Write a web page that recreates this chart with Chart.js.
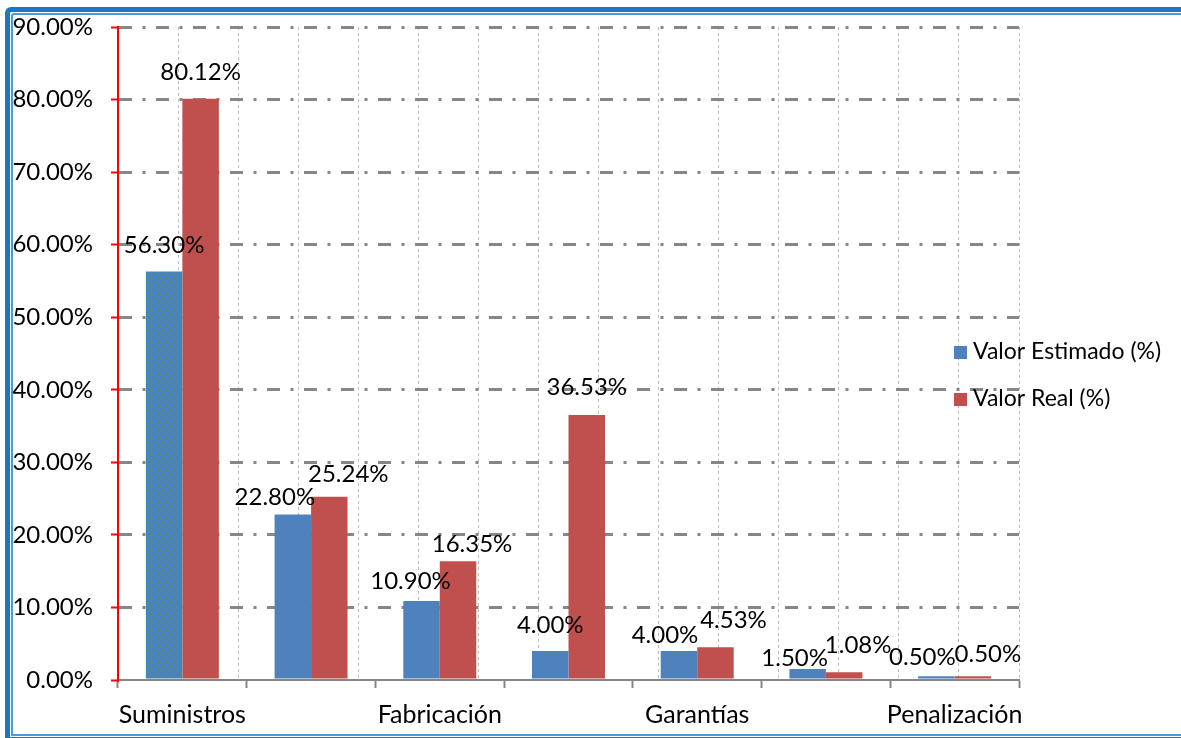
<!DOCTYPE html>
<html>
<head>
<meta charset="utf-8">
<script src="https://cdn.jsdelivr.net/npm/chart.js@4.4.1/dist/chart.umd.min.js"></script>
<style>
  html, body { margin: 0; padding: 0; background: #fff; overflow: hidden; }
  #wrap { position: relative; width: 1181px; height: 738px; overflow: hidden; }
  .frame {
    position: absolute; left: 5px; top: 7px; width: 1400px; height: 725px;
    border: 5px solid #1b76c5; border-right: none; border-top-left-radius: 6px;
  }
  .frame-inner {
    position: absolute; left: 1px; top: 1px; right: 0; bottom: 1px;
    border: 2px solid #4a9ade; border-right: none; border-top-left-radius: 3px;
  }
  canvas { position: absolute; left: 0; top: 0; }
</style>
</head>
<body>
<div id="wrap">
  <div class="frame"><div class="frame-inner"></div></div>
  <canvas id="chart" width="1181" height="738"></canvas>
</div>
<script>
// Categories (only every other name is printed on the axis)
const categories = ['Suministros', '', 'Fabricación', '', 'Garantías', '', 'Penalización'];
const seriesNames = ['Valor Estimado (%)', 'Valor Real (%)'];
const valorEstimado = [56.30, 22.80, 10.90, 4.00, 4.00, 1.50, 0.50];
const valorReal = [80.12, 25.24, 16.35, 36.53, 4.53, 1.08, 0.50];
const yMin = 0, yMax = 90, yStep = 10;

// Hand-placed value labels: [dx, dy] from the top centre of each bar
const estimadoLabelShift = [[0, -26], [-18, -17], [-11, -20], [0, -26], [-14, -16], [-13, -11], [-14, -19]];
const realLabelShift = [[0, -26], [19, -23], [14, -17], [0, -28], [18, -27], [14, -27], [15, -22]];

const FONT = 'Lato, "Open Sans", "Liberation Sans", sans-serif';
const BLUE = '#4F81BD';
const RED = '#C0504D';
const GRID = '#868686';

// Dotted fill used on the first estimated bar
function dottedFill() {
  const c = document.createElement('canvas');
  c.width = 8; c.height = 8;
  const g = c.getContext('2d');
  g.fillStyle = BLUE; g.fillRect(0, 0, 8, 8);
  g.fillStyle = '#2f9c70';
  g.beginPath(); g.arc(2, 2, 1.2, 0, Math.PI * 2); g.fill();
  g.beginPath(); g.arc(6, 6, 1.2, 0, Math.PI * 2); g.fill();
  return g.createPattern(c, 'repeat');
}
const estimadoColors = valorEstimado.map((v, i) => i === 0 ? dottedFill() : BLUE);

const valueLabels = {
  id: 'valueLabels',
  afterDatasetsDraw(chart) {
    const ctx = chart.ctx;
    const shifts = [estimadoLabelShift, realLabelShift];
    ctx.save();
    ctx.font = '24px ' + FONT;
    ctx.fillStyle = '#000';
    ctx.textAlign = 'center';
    ctx.textBaseline = 'middle';
    chart.data.datasets.forEach((ds, di) => {
      chart.getDatasetMeta(di).data.forEach((bar, i) => {
        const s = shifts[di][i];
        ctx.fillText(ds.data[i].toFixed(2) + '%', bar.x + s[0], bar.y + s[1]);
      });
    });
    ctx.restore();
  }
};

const sideLegend = {
  id: 'sideLegend',
  afterDraw(chart) {
    const ctx = chart.ctx;
    const colors = [BLUE, RED];
    const x = 954, rows = [352, 399];
    ctx.save();
    ctx.font = '23px ' + FONT;
    ctx.textBaseline = 'middle';
    ctx.textAlign = 'left';
    chart.data.datasets.forEach((ds, i) => {
      ctx.fillStyle = colors[i];
      ctx.fillRect(x, rows[i] - 6, 13, 13);
      ctx.fillStyle = '#000';
      ctx.fillText(ds.label, x + 19, rows[i]);
    });
    ctx.restore();
  }
};

new Chart(document.getElementById('chart'), {
  type: 'bar',
  data: {
    labels: categories,
    datasets: [
      { label: seriesNames[0], data: valorEstimado, backgroundColor: estimadoColors, xAxisID: 'x', yAxisID: 'y' },
      { label: seriesNames[1], data: valorReal, backgroundColor: RED, xAxisID: 'x', yAxisID: 'y' }
    ]
  },
  options: {
    responsive: false,
    animation: false,
    categoryPercentage: 0.567,
    barPercentage: 1.0,
    layout: { padding: { top: 27, right: 162, left: 0, bottom: 0 } },
    plugins: { legend: { display: false }, tooltip: { enabled: false } },
    scales: {
      x: {
        type: 'category',
        position: 'bottom',
        offset: true,
        grid: { display: true, drawOnChartArea: false, offset: true, tickLength: 8, tickColor: GRID, tickWidth: 2 },
        border: { display: true, color: GRID, width: 2 },
        ticks: { autoSkip: false, maxRotation: 0, minRotation: 0, color: '#000', font: { family: FONT, size: 25 }, padding: 12 },
        afterFit(s) { s.height = 58; }
      },
      xg: {
        type: 'linear',
        position: 'top',
        min: 0, max: categories.length,
        ticks: { display: false, stepSize: 0.5 },
        grid: { color: '#bcbcbc', lineWidth: 1, drawTicks: false },
        border: { display: false, dash: [3, 3] },
        afterFit(s) { s.height = 0; }
      },
      y: {
        min: yMin, max: yMax,
        ticks: {
          stepSize: yStep,
          callback: v => v.toFixed(2) + '%',
          color: '#000',
          font: { family: FONT, size: 24 },
          padding: 18
        },
        grid: {
          color: c => (c.tick && c.tick.value === 0) ? 'rgba(0,0,0,0)' : GRID,
          lineWidth: 3,
          tickColor: '#ff0000',
          tickWidth: 2,
          tickLength: 7
        },
        border: { display: true, color: '#ff0000', width: 2, dash: [13, 10.5, 3, 10.5] },
        afterFit(s) { s.width = 118; s.paddingTop = 0; s.paddingBottom = 0; }
      }
    }
  },
  plugins: [valueLabels, sideLegend]
});
</script>
</body>
</html>
